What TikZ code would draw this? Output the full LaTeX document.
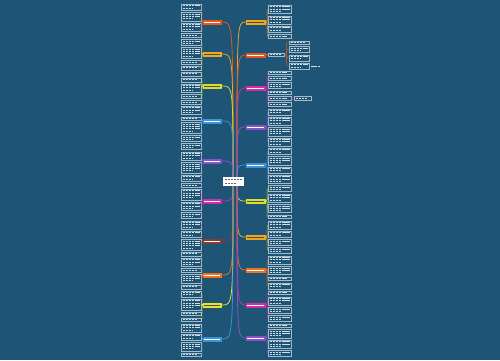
\documentclass[tikz,border=0pt]{standalone}
\usetikzlibrary{calc}

\definecolor{bgblue}{HTML}{1E5577}
\definecolor{cRed}{HTML}{E8561E}
\definecolor{cAmber}{HTML}{F2A81D}
\definecolor{cLime}{HTML}{D5DF2C}
\definecolor{cBlue}{HTML}{3C93DC}
\definecolor{cViolet}{HTML}{8B52C6}
\definecolor{cPink}{HTML}{D22BAE}
\definecolor{cBrown}{HTML}{8A3B2E}
\definecolor{cOrange}{HTML}{EE7020}
\definecolor{cYellow}{HTML}{E6E42C}

\tikzset{
  leafbox/.style={draw=white!60!bgblue, fill=bgblue, line width=0.3pt, inner sep=0pt},
  textline/.style={white!80!bgblue, line width=0.85pt, dash pattern=on 2.6pt off 0.5pt},
  topic/.style={fill=#1, minimum height=5pt, inner sep=0pt},
  branch/.style={draw=#1, line width=0.75pt},
  twig/.style={draw=#1, line width=0.35pt, rounded corners=1pt},
}

% #1 parent, #2 colour, #3 parent anchor, #4 leaf anchor, #5 x, #6 y top, #7 width, #8 line counts
\newcommand\leaves[8]{%
  \xdef\ycur{#6}%
  \foreach \n [count=\i] in {#8} {
    \pgfmathsetmacro\h{2.3*\n+1.4}
    \node[leafbox, minimum width=#7pt, minimum height=\h pt, anchor=north west] (#1-\i) at (#5,\ycur) {};
    \foreach \k in {1,...,\n} {
      \pgfmathsetmacro\ty{2.3*\k-0.45}
      \pgfmathsetmacro\len{ifthenelse(\k==\n,ifthenelse(\n==1,0.85,0.6),1)*(#7-3)}
      \draw[textline] ($(#1-\i.north west)+(1.5pt,-\ty pt)$) -- ++(\len pt,0);
    }
    \draw[twig=#2] (#1.#3) -- ($(#1.#3)!0.5!(#1-\i.#4 |- #1.#3)$) |- (#1-\i.#4);
    \pgfmathsetmacro\ynext{\ycur+\h+2.2}
    \xdef\ycur{\ynext}
  }%
}

\begin{document}
\begin{tikzpicture}[x=1pt, y=-1pt]
\fill[bgblue] (0,0) rectangle (500,360);
\useasboundingbox (0,0) rectangle (500,360);

\coordinate (hubL) at (233,181);
\coordinate (hubR) at (237,181);

% left topics
\foreach \nm/\col/\yy/\tc in {bl1/cRed/22/white, bl2/cAmber/54/black!70, bl3/cLime/86/black!70,
    bl4/cBlue/121/white, bl5/cViolet/161/white, bl6/cPink/201/white, bl7/cBrown/241/white,
    bl8/cOrange/275/white, bl9/cYellow/305/black!70, bl10/cBlue/339/white} {
  \node[topic=\col, minimum width=19pt] (\nm) at (212.5,\yy) {};
  \draw[\tc, line width=1pt, dash pattern=on 2.5pt off 0.5pt] ($(\nm.west)+(1.5pt,0)$) -- ($(\nm.east)+(-2.5pt,0)$);
  \draw[branch=\col] (hubL) .. controls (hubL |- \nm) .. (\nm.east);
}

% right topics
\foreach \nm/\col/\yy/\tc in {br1/cAmber/22/black!70, br2/cRed/55/white, br3/cPink/88/white,
    br4/cViolet/127/white, br5/cBlue/165/white, br6/cLime/201/black!70, br7/cAmber/237/black!70,
    br8/cOrange/270/white, br9/cPink/305/white, br10/cViolet/338/white} {
  \node[topic=\col, minimum width=20pt] (\nm) at (256,\yy) {};
  \draw[\tc, line width=1pt, dash pattern=on 2.5pt off 0.5pt] ($(\nm.west)+(1.5pt,0)$) -- ($(\nm.east)+(-2.5pt,0)$);
  \draw[branch=\col] (hubR) .. controls (hubR |- \nm) .. (\nm.west);
}

% left leaves
\leaves{bl1}{cRed}{west}{east}{181}{4}{20}{2,3,3,1}
\leaves{bl2}{cAmber}{west}{east}{181}{39.1}{20}{2,4,1,1}
\leaves{bl3}{cLime}{west}{east}{181}{71.9}{20}{1,1,3,1,1}
\leaves{bl4}{cBlue}{west}{east}{181}{106}{20}{3,1,4,2}
\leaves{bl5}{cViolet}{west}{east}{181}{143.4}{20}{2,3,4,2}
\leaves{bl6}{cPink}{west}{east}{181}{183.1}{20}{1,4,3,2}
\leaves{bl7}{cBrown}{west}{east}{181}{220.5}{20}{3,2,4,1}
\leaves{bl8}{cOrange}{west}{east}{181}{257.9}{20}{3,1,3,1}
\leaves{bl9}{cYellow}{west}{east}{181}{290.7}{20}{2,4,1,1}
\leaves{bl10}{cBlue}{west}{east}{181}{323.5}{20}{3,2,3,1}

% right leaves
\leaves{br1}{cAmber}{east}{west}{268}{5}{23}{3,3,2,1}
\leaves{br2}{cRed}{east}{west}{268}{52.5}{16}{1}
\leaves{br2-1}{cRed}{east}{west}{289}{40.5}{20}{1,2,2,2}
\leaves{br3}{cPink}{east}{west}{268}{70.5}{23}{1,1,2,1,1,1}
\leaves{br3-5}{cPink}{east}{west}{294}{96.4}{17}{1}
\leaves{br4}{cViolet}{east}{west}{268}{108.5}{23}{2,3,3,3}
\leaves{br5}{cBlue}{east}{west}{268}{148}{23}{2,3,2,3}
\leaves{br6}{cLime}{east}{west}{268}{185.4}{23}{2,3,3,1}
\leaves{br7}{cAmber}{east}{west}{268}{220.5}{23}{3,2,2,2}
\leaves{br8}{cOrange}{east}{west}{268}{255.6}{23}{3,3,1,2}
\leaves{br9}{cPink}{east}{west}{268}{290.7}{23}{1,3,2,2}
\leaves{br10}{cViolet}{east}{west}{268}{323.5}{23}{1,3,3,2}

% note beside the last sub-leaf
\coordinate (note) at ($(br2-1-4.east)+(2pt,0)$);
\draw[textline] (note) -- ++(9pt,0);

% centre
\node[fill=white, minimum width=21pt, minimum height=9pt, inner sep=0pt] (root) at (233.5,181.5) {};
\draw[black!60, line width=1pt, dash pattern=on 2.5pt off 0.5pt] ($(root.north west)+(2pt,-2.5pt)$) -- ($(root.north east)+(-2pt,-2.5pt)$);
\draw[black!60, line width=1pt, dash pattern=on 2.5pt off 0.5pt] ($(root.south west)+(2pt,2.5pt)$) -- ($(root.south east)+(-8pt,2.5pt)$);
\end{tikzpicture}
\end{document}
